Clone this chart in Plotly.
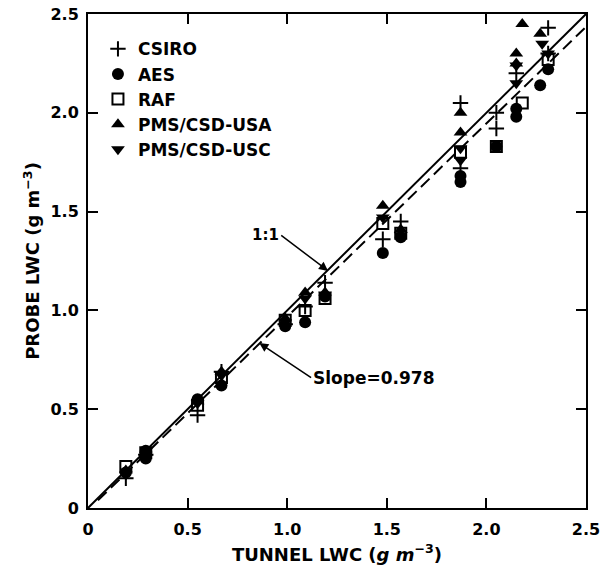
import plotly.graph_objects as go

# ---- data (tunnel LWC, probe LWC) in g m^-3 ----
csiro_x = [0.19, 0.29, 0.55, 0.67, 0.99, 1.09, 1.19, 1.48, 1.57, 1.87, 1.87, 2.05, 2.05, 2.15, 2.31, 2.31]
csiro_y = [0.15, 0.27, 0.47, 0.69, 0.93, 1.02, 1.14, 1.36, 1.45, 2.05, 1.72, 2.00, 1.92, 2.20, 2.43, 2.30]

aes_x = [0.19, 0.29, 0.29, 0.55, 0.67, 0.99, 1.09, 1.19, 1.48, 1.57, 1.87, 1.87, 2.05, 2.15, 2.15, 2.27, 2.31]
aes_y = [0.18, 0.25, 0.29, 0.55, 0.62, 0.92, 0.94, 1.07, 1.29, 1.37, 1.65, 1.68, 1.83, 1.98, 2.02, 2.14, 2.22]

raf_x = [0.19, 0.29, 0.55, 0.67, 0.99, 1.09, 1.19, 1.48, 1.57, 1.87, 2.05, 2.18, 2.31]
raf_y = [0.21, 0.28, 0.52, 0.66, 0.95, 1.00, 1.06, 1.44, 1.39, 1.80, 1.83, 2.05, 2.27]

usa_x = [0.19, 0.29, 0.55, 0.67, 0.99, 1.09, 1.19, 1.48, 1.57, 1.87, 1.87, 2.15, 2.15, 2.18, 2.27]
usa_y = [0.19, 0.28, 0.54, 0.69, 0.96, 1.09, 1.09, 1.53, 1.41, 2.00, 1.90, 2.30, 2.25, 2.45, 2.40]

usc_x = [0.19, 0.29, 0.55, 0.67, 0.99, 1.09, 1.19, 1.48, 1.57, 1.87, 1.87, 2.15, 2.15, 2.28, 2.31]
usc_y = [0.17, 0.27, 0.53, 0.67, 0.94, 1.06, 1.08, 1.47, 1.38, 1.76, 1.82, 2.15, 2.24, 2.35, 2.30]

line_x = [0.0, 2.5]
fit_x = [0.05, 2.5]
fit_slope = 0.978
fit_intercept = -0.01

tick_vals = [0, 0.5, 1.0, 1.5, 2.0, 2.5]
tick_text = ["0", "0.5", "1.0", "1.5", "2.0", "2.5"]

FONT = "DejaVu Sans"

fig = go.Figure()

# reference lines
fig.add_trace(go.Scatter(x=line_x, y=line_x, mode="lines",
                         line=dict(color="black", width=2), showlegend=False, hoverinfo="skip"))
fig.add_trace(go.Scatter(x=fit_x, y=[fit_slope * v + fit_intercept for v in fit_x],
                         mode="lines", line=dict(color="black", width=2, dash="12px,6px"),
                         showlegend=False, hoverinfo="skip"))

series = [
    ("CSIRO", csiro_x, csiro_y, dict(symbol="cross-thin", size=11, color="black",
                                     line=dict(color="black", width=2))),
    ("AES", aes_x, aes_y, dict(symbol="circle", size=12, color="black")),
    ("RAF", raf_x, raf_y, dict(symbol="square-open", size=11, color="black",
                               line=dict(color="black", width=2))),
    ("PMS/CSD-USA", usa_x, usa_y, dict(symbol="triangle-up", size=12, color="black")),
    ("PMS/CSD-USC", usc_x, usc_y, dict(symbol="triangle-down", size=12, color="black")),
]
for name, xs, ys, mk in series:
    fig.add_trace(go.Scatter(x=xs, y=ys, mode="markers", name=name, marker=mk))

axis_common = dict(
    range=[0, 2.5], tickvals=tick_vals, ticktext=tick_text,
    showline=True, linecolor="black", linewidth=2, mirror="ticks",
    ticks="inside", ticklen=10, tickwidth=2, tickcolor="black",
    showgrid=False, zeroline=False, automargin=False, ticklabeloverflow="allow",
    tickfont=dict(family=FONT, size=16, color="black", weight="bold"),
)

fig.update_layout(
    width=601, height=575,
    margin=dict(l=88, r=15, t=14, b=67),
    paper_bgcolor="white", plot_bgcolor="white",
    font=dict(family=FONT, color="black"),
    xaxis=dict(**axis_common, ticklabelstandoff=6,
               title=dict(text="TUNNEL LWC (<i>g m</i><sup>−3</sup>)",
                          font=dict(family=FONT, size=18, weight="bold", color="black"),
                          standoff=10)),
    yaxis=dict(**axis_common, ticklabelstandoff=4,
               title=dict(text="PROBE LWC (g m<sup>−3</sup>)",
                          font=dict(family=FONT, size=18, weight="bold", color="black"),
                          standoff=6)),
    legend=dict(x=0.02, y=0.965, xanchor="left", yanchor="top",
                bgcolor="rgba(0,0,0,0)",
                font=dict(family=FONT, size=17, color="black", weight="bold"),
                itemwidth=30, tracegroupgap=0),
    annotations=[
        dict(x=1.205, y=1.20, xref="x", yref="y", ax=0.97, ay=1.38, axref="x", ayref="y",
             text="1:1", showarrow=True, arrowhead=2, arrowsize=1.2, arrowwidth=1.5,
             arrowcolor="black", xanchor="right", font=dict(family=FONT, size=15, weight="bold")),
        dict(x=0.86, y=0.835, xref="x", yref="y", ax=1.12, ay=0.66, axref="x", ayref="y",
             text="Slope=0.978", showarrow=True, arrowhead=2, arrowsize=1.2, arrowwidth=1.5,
             arrowcolor="black", xanchor="left", font=dict(family=FONT, size=17, weight="bold")),
    ],
)

fig.write_html("out.html")
